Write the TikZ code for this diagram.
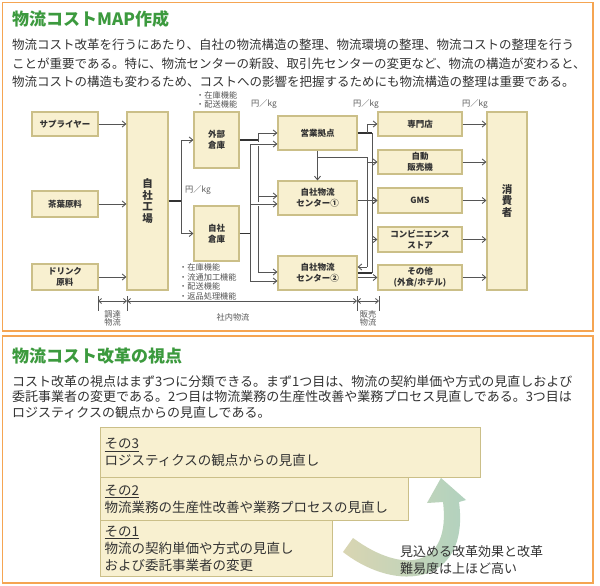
\documentclass[tikz,border=0pt]{standalone}
\usepackage{fontspec}
\setmainfont{Noto Sans CJK JP}
\usetikzlibrary{arrows.meta}
\definecolor{ttl}{HTML}{3C9A3E}
\definecolor{frm}{HTML}{F5A552}
\definecolor{bxf}{HTML}{F8F0D0}
\definecolor{bxd}{HTML}{CBBF88}
\definecolor{txt}{HTML}{333333}
\definecolor{ln}{HTML}{555555}
\definecolor{arA}{HTML}{D9D5B2}
\definecolor{arB}{HTML}{B0D2BF}
\newcommand\myfs[2]{\fontsize{#1}{#2}\selectfont}
\begin{document}
\begin{tikzpicture}[x=1pt,y=-1pt,
  panel/.style={draw=frm, line width=1.5pt},
  box/.style={draw=bxd, fill=bxf, line width=1.2pt, inner sep=0pt, font=\myfs{8.5}{11}\bfseries, text=txt, align=center},
  vbox/.style={box, font=\myfs{10.5}{11.5}\bfseries},
  bigbox/.style={draw=bxd, fill=bxf, line width=1.2pt, inner xsep=4pt, inner ysep=0pt, font=\myfs{13.5}{17}, text=txt, align=left, anchor=north west},
  ttlstyle/.style={anchor=west, inner sep=0pt, text=ttl, font=\myfs{17}{20}\bfseries},
  para/.style={anchor=west, inner sep=0pt, text=txt, font=\myfs{12.5}{15}},
  parb/.style={anchor=west, inner sep=0pt, text=txt, font=\myfs{13}{15}},
  note/.style={anchor=west, inner sep=0pt, text=ln, font=\myfs{8.2}{9}},
  wire/.style={draw=ln, line width=0.9pt},
  thk/.style={draw=txt, line width=1.3pt},
  conn/.style={wire, -{Straight Barb[length=3.5pt,width=6pt]}},
  gap/.style={preaction={draw=white, line width=3.5pt, -, shorten <=3pt, shorten >=6pt}},
  dim/.style={wire, line width=0.8pt, {Straight Barb[length=3pt,width=5pt]}-{Straight Barb[length=3pt,width=5pt]}}
]
\useasboundingbox (0,0) rectangle (600,586);
\fill[white] (0,0) rectangle (600,586);
% panels
\draw[panel] (2.5,2.5) rectangle (593,331);
\draw[panel] (2.5,336) rectangle (593,583);

% ---------- top panel text
\node[ttlstyle] (t1) at (12,19) {物流コストMAP作成};
\node[para] (p1) at (12,45) {物流コスト改革を行うにあたり、自社の物流構造の整理、物流環境の整理、物流コストの整理を行う};
\node[para] (p2) at (12,64) {ことが重要である。特に、物流センターの新設、取引先センターの変更など、物流の構造が変わると、};
\node[para] (p3) at (12,82) {物流コストの構造も変わるため、コストへの影響を把握するためにも物流構造の整理は重要である。};

% ---------- diagram boxes
\node[box, minimum width=66, minimum height=24] (sup) at (65,124) {サプライヤー};
\node[box, minimum width=66, minimum height=26] (cha) at (65,204) {茶葉原料};
\node[box, minimum width=66, minimum height=26] (drk) at (65,277) {ドリンク\\原料};
\node[vbox, minimum width=41, minimum height=178] (fac) at (147.5,201) {自\\社\\工\\場};
\node[box, minimum width=45, minimum height=56] (gai) at (216.5,140) {外部\\倉庫};
\node[box, minimum width=45, minimum height=55] (jiw) at (216.5,233.5) {自社\\倉庫};
\node[box, minimum width=79, minimum height=34] (eig) at (317.5,133) {営業拠点};
\node[box, minimum width=79, minimum height=34] (c1) at (317.5,198) {自社物流\\センター①};
\node[box, minimum width=79, minimum height=34] (c2) at (317.5,273) {自社物流\\センター②};
\node[box, minimum width=84, minimum height=24] (sen) at (420,124) {専門店};
\node[box, minimum width=84, minimum height=24] (jih) at (420,162) {自動\\販売機};
\node[box, minimum width=84, minimum height=25] (gms) at (420,200.5) {GMS};
\node[box, minimum width=84, minimum height=25] (cvs) at (420,239.5) {コンビニエンス\\ストア};
\node[box, minimum width=84, minimum height=25] (oth) at (420,277.5) {その他\\(外食/ホテル)};
\node[vbox, minimum width=40, minimum height=178] (con) at (507,201) {消\\費\\者};

% ---------- connectors: inputs
\draw[conn] (sup.east) -- (sup.east -| fac.west);
\draw[conn] (cha.east) -- (cha.east -| fac.west);
\draw[conn] (drk.east) -- (drk.east -| fac.west);

% factory to warehouses
\coordinate (fj) at (181,201);
\draw[thk] (fac.east) -- (fj);
\draw[conn] (fj) |- (gai.west);
\draw[conn] (fj) |- (jiw.west);

% trunk A (external warehouse)
\coordinate (ta1) at (258,133);
\coordinate (ta2) at (258,196);
\coordinate (ta3) at (258,272);
\draw[thk] (gai.east) -- (gai.east -| ta1);
\draw[wire] (ta1) -- (ta3);
\draw[conn] (ta1) -- (ta1 -| eig.west);
\draw[conn] (ta2) -- (ta2 -| c1.west);
\draw[conn] (ta3) -- (ta3 -| c2.west);

% trunk B (own warehouse)
\coordinate (tb1) at (250,144);
\coordinate (tb2) at (250,204);
\coordinate (tb3) at (250,281);
\draw[thk] (jiw.east) -- (jiw.east -| tb1);
\draw[wire] (tb1) -- (tb3);
\draw[conn, gap] (tb1) -- (tb1 -| eig.west);
\draw[conn, gap] (tb2) -- (tb2 -| c1.west);
\draw[conn] (tb3) -- (tb3 -| c2.west);

% sales base outputs
\coordinate (ra) at (372,133);
\coordinate (rb) at (367,133);
\coordinate (rc) at (372,273);
\draw[thk] (eig.east) -- (ra);
\draw[conn] (rb) |- (sen.west);
\draw[wire] (ra) -- (rc);
\draw[conn] (ra |- gms.west) -- (gms.west);
\draw[conn] (ra |- cvs.west) -- (cvs.west);
\draw[conn] (eig.south) -- (c1.north);
\coordinate (ea) at (317.5,157);
\coordinate (eb) at (367,157);
\coordinate (ec) at (367,267);
\draw[wire] (ea) -- (eb) -- (ec);
\draw[conn] (ec) -- (ec -| c2.east);
\draw[conn] (eb |- jih.west) -- (jih.west);
\draw[conn] (c1.east |- gms.west) -- (gms.west);
\draw[thk] (c2.east |- rc) -- (rc);
\draw[conn] (c2.east |- oth.west) -- (oth.west);

% retail to consumers
\draw[conn] (sen.east) -- (sen.east -| con.west);
\draw[conn] (jih.east) -- (jih.east -| con.west);
\draw[conn] (gms.east) -- (gms.east -| con.west);
\draw[conn] (cvs.east) -- (cvs.east -| con.west);
\draw[conn] (oth.east) -- (oth.east -| con.west);

% annotations
\node[note] (n1) at (196,95) {・在庫機能};
\node[note] (n2) at (196,104) {・配送機能};
\node[note] (y1) at (251,104) {円／kg};
\node[note] (y2) at (353,104) {円／kg};
\node[note] (y3) at (462,104) {円／kg};
\node[note] (y4) at (185,190) {円／kg};
\node[note] (f1) at (179,267) {・在庫機能};
\node[note] (f2) at (179,277) {・流通加工機能};
\node[note] (f3) at (179,286) {・配送機能};
\node[note] (f4) at (179,296) {・返品処理機能};

% bottom measure
\coordinate (d1) at (98,301);
\coordinate (d2) at (127,301);
\coordinate (d3) at (357,301);
\coordinate (d4) at (379,301);
\foreach \d in {d1,d2,d3,d4} \draw[wire, line width=0.8pt] (\d) ++(0,-5) -- ++(0,15);
\draw[dim] (d1) -- (d2);
\draw[dim] (d2) -- (d3);
\draw[dim] (d3) -- (d4);
\node[note, anchor=center, align=center, font=\myfs{8.2}{8}] (l1) at (112.5,318) {調達\\物流};
\node[note, anchor=center, font=\myfs{8.2}{9}] (l2) at (233,317) {社内物流};
\node[note, anchor=center, align=center, font=\myfs{8.2}{8}] (l3) at (368,318) {販売\\物流};

% ---------- bottom panel
\node[ttlstyle] (t2) at (12,356) {物流コスト改革の視点};
\node[parb] (q1) at (12,382) {コスト改革の視点はまず3つに分類できる。まず1つ目は、物流の契約単価や方式の見直しおよび};
\node[parb] (q2) at (12,397) {委託事業者の変更である。2つ目は物流業務の生産性改善や業務プロセス見直しである。3つ目は};
\node[parb] (q3) at (12,413) {ロジスティクスの観点からの見直しである。};

\node[bigbox, minimum width=380, minimum height=50, text width=372] (s3) at (100,427) {\underline{その3}\\ロジスティクスの観点からの見直し};
\node[bigbox, minimum width=308, minimum height=43, text width=300] (s2) at (100,477) {\underline{その2}\\物流業務の生産性改善や業務プロセスの見直し};
\node[bigbox, minimum width=232, minimum height=56, text width=224] (s1) at (100,520) {\underline{その1}\\物流の契約単価や方式の見直し\\および委託事業者の変更};

% curved arrow
\shade[left color=arA, right color=arB]
  (353,538) .. controls (403,575) and (451,568) .. (443,502)
  -- (427,503) -- (441,478) -- (466,500) -- (459,502)
  .. controls (470,585) and (397,594) .. (343,552) -- cycle;
\node[parb, font=\myfs{13}{17}] (r1) at (400,552) {見込める改革効果と改革};
\node[parb, font=\myfs{13}{17}] (r2) at (400,569) {難易度は上ほど高い};
\end{tikzpicture}
\end{document}
